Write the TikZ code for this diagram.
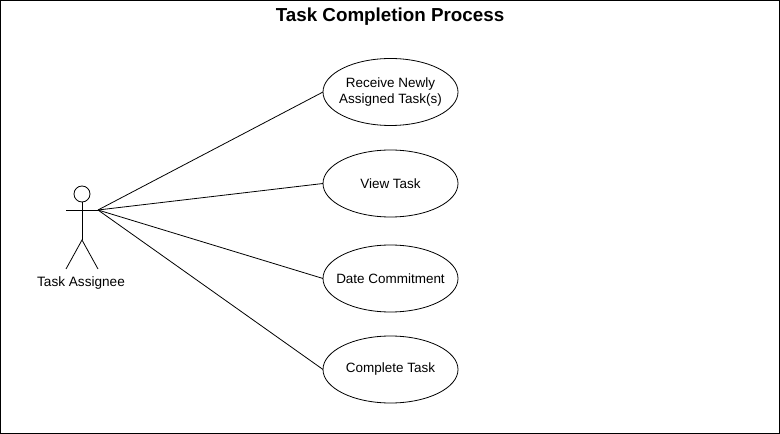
\documentclass[tikz,border=0pt]{standalone}
\usepackage{fontspec}
\setmainfont{Liberation Sans}
\usetikzlibrary{positioning,calc,shapes.geometric}
\tikzset{
  umlpic/.style={
    line width=.6pt
    ,inner sep=0pt
    ,outer sep=0pt
  }
  ,usecase/.style={ellipse,draw=black,inner xsep=-10pt,minimum width=101.25pt,minimum height=50.25pt,align=center,font=\fontsize{10.1}{12}\selectfont}
  ,actorlabel/.style={font=\fontsize{10.2}{12}\selectfont}
  ,heading/.style={font=\fontsize{14.1}{16}\selectfont\bfseries}
  ,frame/.style={draw=black,line width=.75pt}
}
\begin{document}
\begin{tikzpicture}[umlpic,x=.75pt,y=-.75pt]
    % frame
    \useasboundingbox (0,0) rectangle (780,434);
    \draw[frame] (.5,.5) rectangle (779.5,433.5);
    \node[heading] (title) at (390,17) {Task Completion Process};
    % actor
    \node[circle,draw=black,minimum size=12pt] (head) at (82,194) {};
    \coordinate (hip) at (82,240);
    \coordinate (arml) at (66,210);
    \coordinate (armr) at (98,210);
    \coordinate (footl) at (66,269);
    \coordinate (footr) at (98,269);
    \draw (head.south) -- (hip);
    \draw (arml) -- (armr);
    \draw (footl) -- (hip) -- (footr);
    \node[actorlabel] (assignee) at (81,282.5) {Task Assignee};
    % use cases
    \node[usecase] (receive) at (390.5,92) {Receive Newly\\Assigned Task(s)};
    \node[usecase] (view) at (390.5,183.5) {View Task};
    \node[usecase] (date) at (390.5,278.5) {Date Commitment};
    \node[usecase] (complete) at (390.5,369.5) {Complete Task};
    \foreach \uc in {receive,view,date,complete}
      \draw (armr) -- (\uc.west);
\end{tikzpicture}
\end{document}
